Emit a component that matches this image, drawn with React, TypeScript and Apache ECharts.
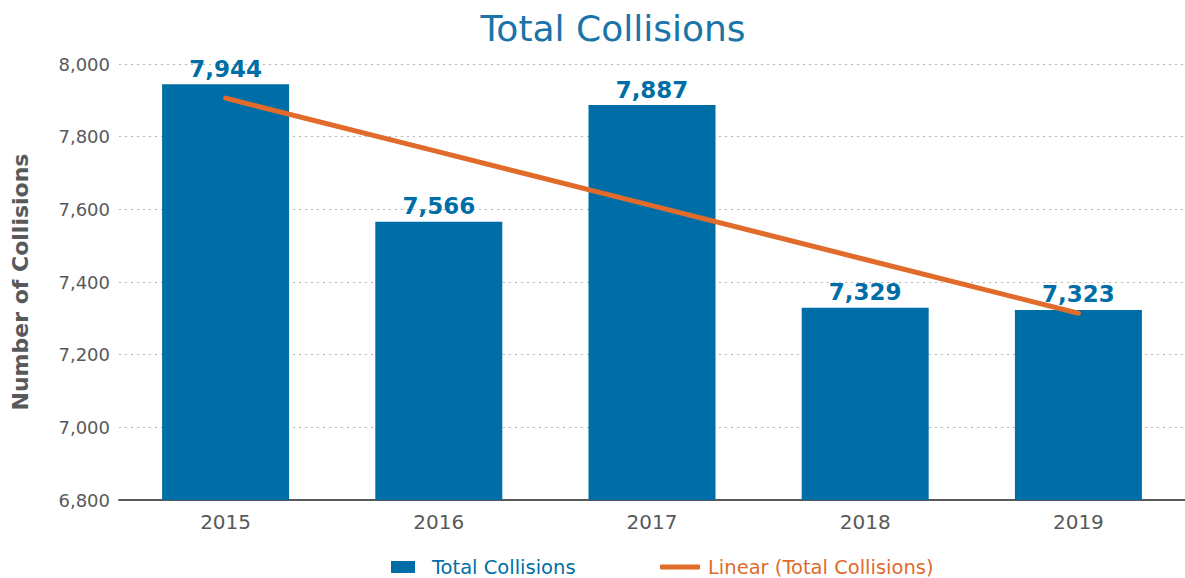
import React, { useEffect, useRef } from "react";
import * as echarts from "echarts";

const years = ["2015", "2016", "2017", "2018", "2019"];
const totalCollisions = [7944, 7566, 7887, 7329, 7323];
const linearTrend = [7906, 7758, 7610, 7462, 7314];

const BLUE = "#006ea6";
const ORANGE = "#e06b2b";
const GREY = "#58595b";
const FONT = "'DejaVu Sans', 'Noto Sans', sans-serif";

export default function App() {
  const ref = useRef<HTMLDivElement>(null);
  useEffect(() => {
    if (!ref.current) return;
    const chart = echarts.init(ref.current, undefined, { renderer: "svg" });
    chart.setOption({
      animation: false,
      title: {
        text: "Total Collisions",
        left: 608,
        textAlign: "center",
        top: 5,
        textStyle: { color: "#1a74a8", fontSize: 36, fontWeight: "normal", fontFamily: FONT },
      },
      legend: [
        {
          data: [{ name: "Total Collisions", icon: "rect" }],
          left: 386,
          top: 552,
          itemWidth: 24,
          itemHeight: 12,
          itemGap: 10,
          textStyle: { color: BLUE, fontSize: 19.5, fontFamily: FONT, padding: [0, 0, 0, 12] },
        },
        {
          data: [{ name: "Linear (Total Collisions)", icon: "roundRect" }],
          left: 655,
          top: 552,
          itemWidth: 40,
          itemHeight: 5,
          textStyle: { color: ORANGE, fontSize: 19.5, fontFamily: FONT, padding: [0, 0, 0, 3] },
        },
      ],
      grid: { left: 119, right: -3, top: 64, bottom: 78, containLabel: false },
      xAxis: {
        type: "category",
        data: years,
        axisLine: { lineStyle: { color: GREY, width: 2 } },
        axisTick: { show: false },
        axisLabel: { color: GREY, fontSize: 20, fontFamily: FONT, margin: 12 },
      },
      yAxis: {
        type: "value",
        min: 6800,
        max: 8000,
        interval: 200,
        name: "Number of Collisions",
        nameLocation: "middle",
        nameGap: 88,
        nameTextStyle: { color: GREY, fontSize: 22, fontWeight: "bold", fontFamily: FONT },
        axisLine: { show: false },
        axisTick: { show: false },
        axisLabel: {
          color: GREY,
          fontSize: 18,
          fontFamily: FONT,
          margin: 9,
          formatter: (v: number) => v.toLocaleString("en-US"),
        },
        splitLine: { lineStyle: { color: "#b5b5b5", type: [2, 4], width: 1 } },
      },
      series: [
        {
          name: "Total Collisions",
          type: "bar",
          data: totalCollisions,
          barWidth: 127,
          itemStyle: { color: BLUE },
          label: {
            show: true,
            position: "top",
            distance: 4,
            color: BLUE,
            fontSize: 23,
            fontWeight: "bold",
            fontFamily: FONT,
            formatter: (p: any) => Number(p.value).toLocaleString("en-US"),
          },
        },
        {
          name: "Linear (Total Collisions)",
          type: "line",
          data: linearTrend,
          symbol: "none",
          lineStyle: { color: ORANGE, width: 5, cap: "round" },
          itemStyle: { color: ORANGE },
          z: 5,
        },
      ],
    });
    return () => chart.dispose();
  }, []);
  return <div ref={ref} style={{ width: 1185, height: 578, position: "absolute", left: 0, top: 0 }} />;
}
